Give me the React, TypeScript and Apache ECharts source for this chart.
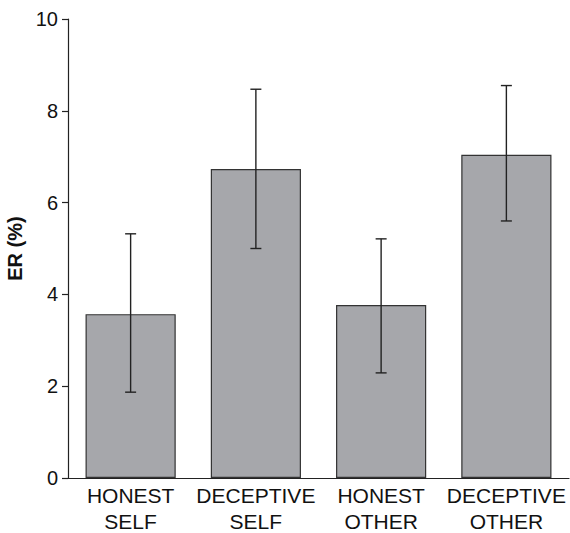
import React, { useEffect, useRef } from "react";
import * as echarts from "echarts";

const categories = ["HONEST\nSELF", "DECEPTIVE\nSELF", "HONEST\nOTHER", "DECEPTIVE\nOTHER"];
const meanValues = [3.57, 6.73, 3.77, 7.04];
const errorLow = [1.87, 5.0, 2.29, 5.6];
const errorHigh = [5.32, 8.47, 5.21, 8.55];
const yTicks = [0, 2, 4, 6, 8, 10];

export default function App() {
  const ref = useRef<HTMLDivElement>(null);
  useEffect(() => {
    if (!ref.current) return;
    const chart = echarts.init(ref.current, null, { renderer: "svg" });
    const errData = categories.map((_, i) => [i, errorLow[i], errorHigh[i]]);
    const font = "Liberation Sans, Arial, sans-serif";
    chart.setOption({
      animation: false,
      grid: {
        left: 68,
        right: 1,
        top: 19,
        bottom: 55,
        containLabel: false,
        outerBoundsMode: "none",
      },
      xAxis: {
        type: "category",
        data: categories,
        axisLine: { show: true, lineStyle: { color: "#222", width: 1.2 } },
        axisTick: { show: false },
        axisLabel: {
          color: "#111",
          fontSize: 21,
          fontFamily: font,
          lineHeight: 26,
          margin: 4,
          interval: 0,
          hideOverlap: false,
        },
      },
      yAxis: {
        type: "value",
        min: 0,
        max: 10,
        interval: 2,
        name: "ER (%)",
        nameLocation: "middle",
        nameGap: 42,
        nameTextStyle: {
          color: "#111",
          fontSize: 20,
          fontWeight: "bold",
          fontFamily: font,
        },
        axisLine: { show: true, lineStyle: { color: "#222", width: 1.2 } },
        axisTick: { show: true, length: 6, lineStyle: { color: "#222", width: 1.2 } },
        splitLine: { show: false },
        axisLabel: {
          color: "#111",
          fontSize: 20,
          fontFamily: font,
          margin: 10,
          formatter: (v: number) => (yTicks.includes(v) ? String(v) : ""),
        },
      },
      series: [
        {
          type: "bar",
          data: meanValues,
          barWidth: "72%",
          itemStyle: { color: "#a6a7ab", borderColor: "#333", borderWidth: 1.2 },
        },
        {
          type: "custom",
          data: errData,
          z: 10,
          renderItem: (params: any, api: any) => {
            const x = api.value(0);
            const lo = api.coord([x, api.value(1)]);
            const hi = api.coord([x, api.value(2)]);
            const cap = 5.5;
            const style = { stroke: "#222", lineWidth: 1.4 };
            return {
              type: "group",
              children: [
                { type: "line", shape: { x1: lo[0], y1: lo[1], x2: hi[0], y2: hi[1] }, style },
                { type: "line", shape: { x1: lo[0] - cap, y1: lo[1], x2: lo[0] + cap, y2: lo[1] }, style },
                { type: "line", shape: { x1: hi[0] - cap, y1: hi[1], x2: hi[0] + cap, y2: hi[1] }, style },
              ],
            };
          },
        },
      ],
    });
    return () => chart.dispose();
  }, []);
  return (
    <div
      ref={ref}
      style={{ position: "absolute", left: 0, top: 0, width: 570, height: 533 }}
    />
  );
}
